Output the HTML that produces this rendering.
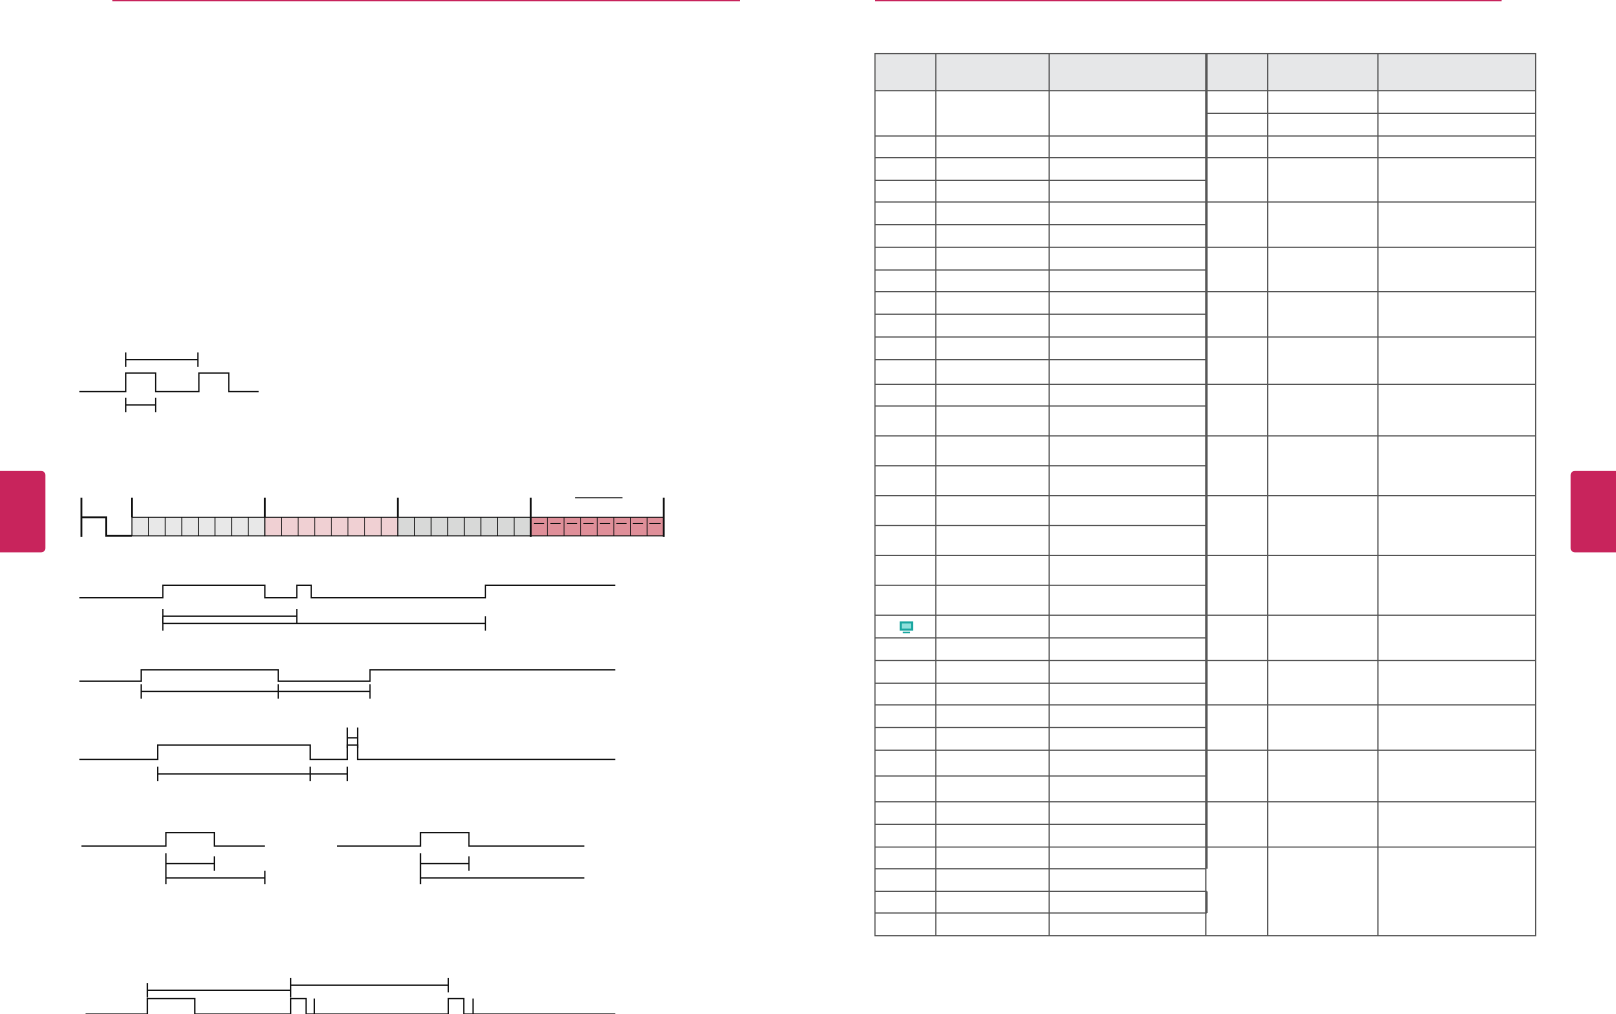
<!DOCTYPE html>
<html><head><meta charset="utf-8"><style>html,body{margin:0;padding:0;background:#fff}svg{display:block}</style></head>
<body>
<svg width="1616" height="1014" viewBox="0 0 1568 984" preserveAspectRatio="none" xmlns="http://www.w3.org/2000/svg">
<rect width="1568" height="984" fill="#fff"/>
<line x1="109" y1="0.6" x2="718" y2="0.6" stroke="#c8245c" stroke-width="1.2"/>
<line x1="849" y1="0.6" x2="1457" y2="0.6" stroke="#c8245c" stroke-width="1.2"/>
<rect x="-6" y="457" width="50" height="79" rx="4" fill="#c8245c"/>
<rect x="1524" y="457" width="50" height="79" rx="4" fill="#c8245c"/>
<g fill="none" stroke="#111" stroke-width="1.3">
<polyline points="77,380 122,380 122,362 151,362 151,380 193,380 193,362 222,362 222,380 251,380"/>
<line x1="122" y1="349" x2="192" y2="349"/><line x1="122" y1="342" x2="122" y2="356"/><line x1="192" y1="342" x2="192" y2="356"/>
<line x1="122" y1="393" x2="151" y2="393"/><line x1="122" y1="386" x2="122" y2="400"/><line x1="151" y1="386" x2="151" y2="400"/>
</g>
<g stroke="#111" stroke-width="1">
<rect x="128" y="502" width="129" height="18" fill="#e8e8e8"/>
<rect x="257" y="502" width="129" height="18" fill="#f0d0d3"/>
<rect x="386" y="502" width="129" height="18" fill="#d8d9d8"/>
<rect x="515" y="502" width="129" height="18" fill="#df8f99"/>
</g>
<g stroke="#111" stroke-width="0.8" id="cells">
<line x1="144.1" y1="502" x2="144.1" y2="520"/><line x1="160.3" y1="502" x2="160.3" y2="520"/><line x1="176.4" y1="502" x2="176.4" y2="520"/><line x1="192.5" y1="502" x2="192.5" y2="520"/><line x1="208.6" y1="502" x2="208.6" y2="520"/><line x1="224.8" y1="502" x2="224.8" y2="520"/><line x1="240.9" y1="502" x2="240.9" y2="520"/>
<line x1="273.1" y1="502" x2="273.1" y2="520"/><line x1="289.3" y1="502" x2="289.3" y2="520"/><line x1="305.4" y1="502" x2="305.4" y2="520"/><line x1="321.5" y1="502" x2="321.5" y2="520"/><line x1="337.6" y1="502" x2="337.6" y2="520"/><line x1="353.8" y1="502" x2="353.8" y2="520"/><line x1="369.9" y1="502" x2="369.9" y2="520"/>
<line x1="402.1" y1="502" x2="402.1" y2="520"/><line x1="418.3" y1="502" x2="418.3" y2="520"/><line x1="434.4" y1="502" x2="434.4" y2="520"/><line x1="450.5" y1="502" x2="450.5" y2="520"/><line x1="466.6" y1="502" x2="466.6" y2="520"/><line x1="482.8" y1="502" x2="482.8" y2="520"/><line x1="498.9" y1="502" x2="498.9" y2="520"/>
<line x1="531.1" y1="502" x2="531.1" y2="520"/><line x1="547.3" y1="502" x2="547.3" y2="520"/><line x1="563.4" y1="502" x2="563.4" y2="520"/><line x1="579.5" y1="502" x2="579.5" y2="520"/><line x1="595.6" y1="502" x2="595.6" y2="520"/><line x1="611.8" y1="502" x2="611.8" y2="520"/><line x1="627.9" y1="502" x2="627.9" y2="520"/>
</g>
<g stroke="#111" stroke-width="1">
<line x1="518" y1="508" x2="528" y2="508"/><line x1="534" y1="508" x2="544" y2="508"/><line x1="550" y1="508" x2="560" y2="508"/><line x1="566" y1="508" x2="576" y2="508"/><line x1="582" y1="508" x2="592" y2="508"/><line x1="598" y1="508" x2="608" y2="508"/><line x1="614" y1="508" x2="624" y2="508"/><line x1="630" y1="508" x2="641" y2="508"/>
<line x1="558" y1="483" x2="604" y2="483"/>
</g>
<g fill="none" stroke="#111" stroke-width="1.8">
<line x1="79" y1="483" x2="79" y2="521"/>
<polyline points="79,502 103,502 103,520 128,520"/>
<line x1="128" y1="483" x2="128" y2="502"/><line x1="257" y1="483" x2="257" y2="502"/><line x1="386" y1="483" x2="386" y2="502"/><line x1="515" y1="483" x2="515" y2="521"/><line x1="644" y1="483" x2="644" y2="521"/>
</g>
<g fill="none" stroke="#111" stroke-width="1.3">
<polyline points="77,580 158,580 158,568 257,568 257,580 288,580 288,568 302,568 302,580 471,580 471,568 597,568"/>
<line x1="158" y1="598" x2="288" y2="598"/><line x1="158" y1="591" x2="158" y2="605"/><line x1="288" y1="591" x2="288" y2="605"/>
<line x1="158" y1="605" x2="471" y2="605"/><line x1="158" y1="598" x2="158" y2="612"/><line x1="471" y1="598" x2="471" y2="612"/>
<polyline points="77,661 137,661 137,650 270,650 270,661 359,661 359,650 597,650"/>
<line x1="137" y1="671" x2="359" y2="671"/><line x1="137" y1="664" x2="137" y2="678"/><line x1="270" y1="664" x2="270" y2="678"/><line x1="359" y1="664" x2="359" y2="678"/>
<polyline points="77,737 153,737 153,723 301,723 301,737 337,737 337,723 347,723 347,737 597,737"/>
<line x1="153" y1="751" x2="337" y2="751"/><line x1="153" y1="744" x2="153" y2="758"/><line x1="301" y1="744" x2="301" y2="758"/><line x1="337" y1="744" x2="337" y2="758"/>
<line x1="337" y1="716" x2="347" y2="716"/><line x1="337" y1="706" x2="337" y2="726"/><line x1="347" y1="706" x2="347" y2="726"/>
<polyline points="79,821 161,821 161,808 208,808 208,821 257,821"/>
<line x1="161" y1="838" x2="208" y2="838"/><line x1="161" y1="828" x2="161" y2="858"/><line x1="208" y1="831" x2="208" y2="845"/>
<line x1="161" y1="852" x2="257" y2="852"/><line x1="257" y1="845" x2="257" y2="858"/>
<polyline points="327,821 408,821 408,808 455,808 455,821 567,821"/>
<line x1="408" y1="838" x2="455" y2="838"/><line x1="408" y1="828" x2="408" y2="858"/><line x1="455" y1="831" x2="455" y2="845"/>
<line x1="408" y1="852" x2="567" y2="852"/>
<polyline points="83,984 143,984 143,969 189,969 189,984 282,984 282,969 297,969 297,984 435,984 435,969 450,969 450,984 597,984"/>
<line x1="305" y1="969" x2="305" y2="984"/><line x1="459" y1="969" x2="459" y2="984"/>
<line x1="143" y1="961" x2="282" y2="961"/><line x1="143" y1="954" x2="143" y2="968"/><line x1="282" y1="949" x2="282" y2="968"/>
<line x1="282" y1="956" x2="435" y2="956"/><line x1="435" y1="949" x2="435" y2="963"/>
</g>
<!-- table -->
<rect x="849" y="52" width="641" height="36" fill="#e6e7e8"/>
<g stroke="#555" stroke-width="1.2" fill="none">
<rect x="849" y="52" width="641" height="856"/>
<line x1="908" y1="52" x2="908" y2="908"/><line x1="1018" y1="52" x2="1018" y2="908"/>
<line x1="1170" y1="52" x2="1170" y2="908"/><line x1="1230" y1="52" x2="1230" y2="908"/><line x1="1337" y1="52" x2="1337" y2="908"/>
<line x1="1171" y1="52" x2="1171" y2="843" stroke-width="1.5"/>
<line x1="849" y1="88" x2="1490" y2="88"/>
<line x1="1170" y1="110" x2="1490" y2="110"/>
<line x1="849" y1="132" x2="1490" y2="132"/><line x1="849" y1="153" x2="1490" y2="153"/>
<line x1="849" y1="175" x2="1170" y2="175"/><line x1="849" y1="196" x2="1490" y2="196"/>
<line x1="849" y1="218" x2="1170" y2="218"/><line x1="849" y1="240" x2="1490" y2="240"/>
<line x1="849" y1="262" x2="1170" y2="262"/><line x1="849" y1="283" x2="1490" y2="283"/>
<line x1="849" y1="305" x2="1170" y2="305"/><line x1="849" y1="327" x2="1490" y2="327"/>
<line x1="849" y1="349" x2="1170" y2="349"/><line x1="849" y1="373" x2="1490" y2="373"/>
<line x1="849" y1="394" x2="1170" y2="394"/><line x1="849" y1="423" x2="1490" y2="423"/>
<line x1="849" y1="452" x2="1170" y2="452"/><line x1="849" y1="481" x2="1490" y2="481"/>
<line x1="849" y1="510" x2="1170" y2="510"/><line x1="849" y1="539" x2="1490" y2="539"/>
<line x1="849" y1="568" x2="1170" y2="568"/><line x1="849" y1="597" x2="1490" y2="597"/>
<line x1="849" y1="619" x2="1170" y2="619"/><line x1="849" y1="641" x2="1490" y2="641"/>
<line x1="849" y1="663" x2="1170" y2="663"/><line x1="849" y1="684" x2="1490" y2="684"/>
<line x1="849" y1="706" x2="1170" y2="706"/><line x1="849" y1="728" x2="1490" y2="728"/>
<line x1="849" y1="753" x2="1170" y2="753"/><line x1="849" y1="778" x2="1490" y2="778"/>
<line x1="849" y1="800" x2="1170" y2="800"/><line x1="849" y1="822" x2="1490" y2="822"/>
<line x1="849" y1="843" x2="1170" y2="843"/><line x1="849" y1="865" x2="1171" y2="865"/>
<line x1="849" y1="886" x2="1171" y2="886"/>
<line x1="1171" y1="865" x2="1171" y2="886" stroke-width="1.5"/>
</g>
<rect x="873" y="603" width="13" height="9" fill="#1aa6a0"/>
<rect x="875" y="605" width="9" height="5" fill="#8fe0dc"/>
<rect x="876" y="613" width="7" height="1.5" fill="#1aa6a0"/>
</svg>
</body></html>
